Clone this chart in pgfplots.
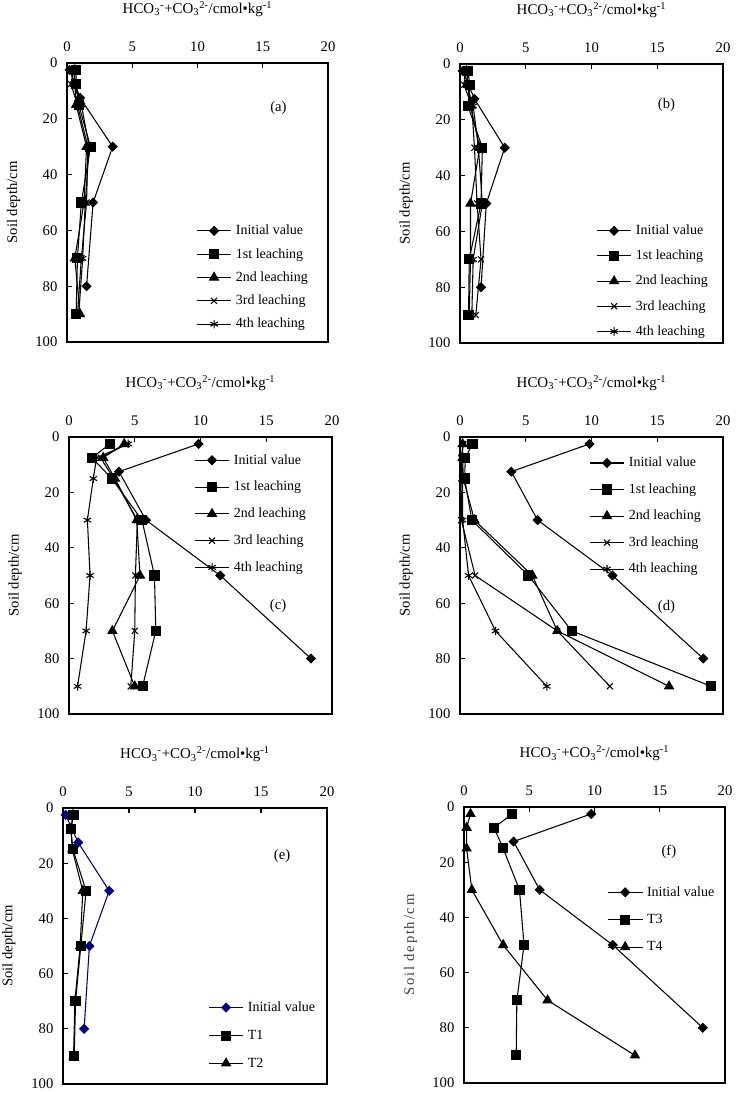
\documentclass[border=0pt]{standalone}
\usepackage{fontspec}
\setmainfont{Liberation Serif}
\usepackage{pgfplots}
\pgfplotsset{compat=1.18}

\definecolor{navy}{RGB}{0,0,128}

\newcommand{\xlab}{HCO\textsubscript{3}\textsuperscript{-}+CO\textsubscript{3}\textsuperscript{2-}/cmol•kg\textsuperscript{-1}}

\pgfplotsset{
  panel/.style={
    scale only axis,
    xmin=0, xmax=20, ymin=0, ymax=100,
    y dir=reverse,
    xtick={0,5,10,15,20}, ytick={0,20,40,60,80,100},
    xtick pos=right, xticklabel pos=right,
    ytick pos=left,
    tick align=inside,
    major tick length=4pt,
    every tick/.style={black, line width=0.8pt},
    axis line style={line width=0.9pt},
    /pgf/number format/assume math mode=true,
    ticklabel style={font=\fontsize{11}{12}\selectfont},
    xticklabel style={anchor=center, yshift=12.5pt},
    yticklabel style={anchor=east, inner sep=0pt, xshift=-7pt},
    title={\xlab},
    title style={font=\fontsize{11.2}{12}\selectfont, at={(axis description cs:0.5,1.165)}, anchor=center, yshift=0pt},
    ylabel={Soil depth/cm},
    ylabel style={font=\fontsize{11}{12}\selectfont, at={(axis description cs:-0.205,0.5)}, anchor=center},
    clip=false,
    legend cell align=left,
    legend style={draw=none, fill=none, anchor=north west, inner sep=0pt,
      font=\fontsize{10.5}{12}\selectfont,
      nodes={inner sep=1pt},
      /tikz/every odd column/.append style={column sep=2pt}},
    legend image code/.code={\draw[mark repeat=2,mark phase=2,#1] plot coordinates {(0pt,0pt) (13pt,0pt) (26pt,0pt)};},
    every axis plot/.append style={line width=0.8pt, black},
  },
  mI/.style={mark=square*, mark size=2.3pt, mark options={rotate=45, solid, fill=black}},
  m1/.style={mark=square*, mark size=3.4pt, mark options={solid, fill=black}},
  m2/.style={mark=triangle*, mark size=3.8pt, mark options={solid, fill=black}},
  m3/.style={mark=x, mark size=3.2pt, mark options={solid}},
  m4/.style={mark=asterisk, mark size=3.2pt, mark options={solid}},
}

\begin{document}
\begin{tikzpicture}
\path[use as bounding box] (0,0) rectangle (552pt,-821.25pt);

% (a)
\begin{axis}[panel, at={(50.25pt,-47.25pt)}, anchor=north west, width=195.75pt, height=209.25pt,
  legend style={at={(0.494,0.425)}, row sep=6.7pt}]
\addplot[mI] coordinates {(0.2,2.5) (1.0,12.5) (3.5,30) (2.0,50) (1.5,80)};
\addplot[m1] coordinates {(0.7,2.5) (0.7,7.5) (0.9,15) (1.8,30) (1.1,50) (0.8,70) (0.7,90)};
\addplot[m2] coordinates {(0.6,2.5) (0.6,7.5) (0.7,15) (1.5,30) (1.3,50) (0.6,70) (1.0,90)};
\addplot[m3] coordinates {(0.5,2.5) (0.3,7.5) (0.8,15) (1.6,30) (1.5,50) (1.1,70) (0.8,90)};
\addplot[m4] coordinates {(0.6,2.5) (0.5,7.5) (1.1,15) (1.7,30) (1.4,50) (1.2,70) (0.9,90)};
\legend{Initial value, 1st leaching, 2nd leaching, 3rd leaching, 4th leaching}
\node[font=\fontsize{11}{12}\selectfont] at (axis cs:16.2,16.1) {(a)};
\end{axis}

% (b)
\begin{axis}[panel, at={(345pt,-48pt)}, anchor=north west, width=197.25pt, height=209.25pt,
  legend style={at={(0.517,0.429)}, row sep=8.1pt}]
\addplot[mI] coordinates {(0.2,2.5) (1.1,12.5) (3.4,30) (2.0,50) (1.6,80)};
\addplot[m1] coordinates {(0.6,2.5) (0.75,7.5) (0.6,15) (1.7,30) (1.6,50) (0.7,70) (0.65,90)};
\addplot[m2] coordinates {(0.5,2.5) (0.6,7.5) (0.8,15) (1.5,30) (0.8,50) (0.8,70) (0.7,90)};
\addplot[m3] coordinates {(0.4,2.5) (0.3,7.5) (0.9,15) (1.1,30) (1.3,50) (1.6,70) (1.2,90)};
\addplot[m4] coordinates {(0.6,2.5) (0.5,7.5) (1.0,15) (1.4,30) (1.7,50) (1.0,70) (0.9,90)};
\legend{Initial value, 1st leaching, 2nd leaching, 3rd leaching, 4th leaching}
\node[font=\fontsize{11}{12}\selectfont] at (axis cs:15.7,14.7) {(b)};
\end{axis}

% (c)
\begin{axis}[panel, at={(51.75pt,-327.75pt)}, anchor=north west, width=197.25pt, height=207.75pt,
  legend style={at={(0.475,0.943)}, row sep=9.3pt}]
\addplot[mI] coordinates {(9.85,2.5) (3.8,12.5) (5.85,30) (11.5,50) (18.4,80)};
\addplot[m1] coordinates {(3.1,2.5) (1.75,7.5) (3.25,15) (5.55,30) (6.5,50) (6.6,70) (5.6,90)};
\addplot[m2] coordinates {(4.2,2.5) (2.6,7.5) (3.5,15) (5.15,30) (5.4,50) (3.3,70) (5.0,90)};
\addplot[m3] coordinates {(4.4,2.5) (2.4,7.5) (3.4,15) (5.2,30) (5.05,50) (5.0,70) (4.7,90)};
\addplot[m4] coordinates {(4.5,2.5) (2.1,7.5) (1.85,15) (1.4,30) (1.6,50) (1.3,70) (0.65,90)};
\legend{Initial value, 1st leaching, 2nd leaching, 3rd leaching, 4th leaching}
\node[font=\fontsize{11}{12}\selectfont] at (axis cs:15.9,61) {(c)};
\end{axis}

% (d)
\begin{axis}[panel, at={(345pt,-327.75pt)}, anchor=north west, width=197.25pt, height=207.75pt,
  legend style={at={(0.490,0.933)}, row sep=9.1pt}]
\addplot[mI] coordinates {(9.85,2.5) (3.9,12.5) (5.9,30) (11.6,50) (18.5,80)};
\addplot[m1] coordinates {(0.95,2.5) (0.4,7.5) (0.35,15) (0.9,30) (5.2,50) (8.5,70) (19.1,90)};
\addplot[m2] coordinates {(0.2,2.5) (0.2,7.5) (0.25,15) (1.1,30) (5.5,50) (7.4,70) (15.9,90)};
\addplot[m3] coordinates {(0.25,2.5) (0.1,7.5) (0.15,15) (0.1,30) (1.15,50) (7.4,70) (11.4,90)};
\addplot[m4] coordinates {(0.2,2.5) (0.15,7.5) (0.2,15) (0.2,30) (0.65,50) (2.7,70) (6.6,90)};
\legend{Initial value, 1st leaching, 2nd leaching, 3rd leaching, 4th leaching}
\node[font=\fontsize{11}{12}\selectfont] at (axis cs:15.7,61.4) {(d)};
\end{axis}

% (e)
\begin{axis}[panel, at={(47.25pt,-606pt)}, anchor=north west, width=198pt, height=207pt,
  legend style={at={(0.549,0.304)}, row sep=10.4pt}]
\addplot[mI, navy, mark options={rotate=45, solid, fill=navy, draw=navy}] coordinates {(0.2,2.5) (1.15,12.5) (3.5,30) (2.0,50) (1.6,80)};
\addplot[m1] coordinates {(0.8,2.5) (0.6,7.5) (0.75,15) (1.75,30) (1.35,50) (0.95,70) (0.85,90)};
\addplot[m2] coordinates {(0.75,2.5) (0.6,7.5) (0.7,15) (1.5,30) (1.3,50) (0.9,70) (0.8,90)};
\legend{Initial value, T1, T2}
\node[font=\fontsize{11}{12}\selectfont] at (axis cs:16.6,17.4) {(e)};
\end{axis}

% (f)
\begin{axis}[panel, at={(348pt,-605.25pt)}, anchor=north west, width=195.75pt, height=207pt,
  ylabel style={text=black!75, font=\fontsize{11}{12}\selectfont\addfontfeature{LetterSpace=12}},
  legend style={at={(0.548,0.718)}, row sep=10pt}]
\addplot[mI] coordinates {(9.75,2.5) (3.8,12.5) (5.8,30) (11.4,50) (18.3,80)};
\addplot[m1] coordinates {(3.7,2.5) (2.3,7.5) (3.0,15) (4.25,30) (4.6,50) (4.05,70) (4.0,90)};
\addplot[m2] coordinates {(0.5,2.5) (0.2,7.5) (0.2,15) (0.6,30) (3.0,50) (6.4,70) (13.1,90)};
\legend{Initial value, T3, T4}
\node[font=\fontsize{11}{12}\selectfont] at (axis cs:15.7,16.3) {(f)};
\end{axis}
\end{tikzpicture}
\end{document}
